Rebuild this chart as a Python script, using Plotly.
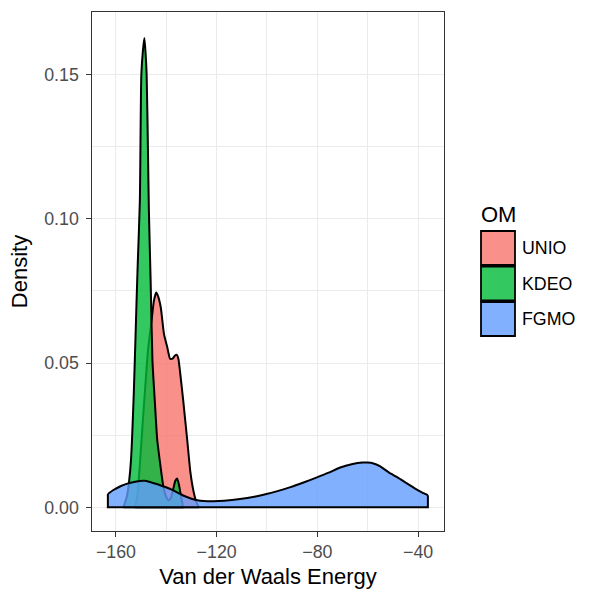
import plotly.graph_objects as go

# ---- data ----
groups = ["UNIO", "KDEO", "FGMO"]
colors = ["#F8766D", "#00BA38", "#619CFF"]

unio_x = [-152.5, -151.5, -150.8, -149.7, -148.5, -147.2, -145.8, -144.9, -144.0, -143.2,
          -142.2, -140.9, -139.6, -138.5, -137.5, -136.6, -135.9, -135.2, -134.6, -133.3,
          -131.7, -130.4, -129.1, -128.0, -127.0]
unio_y = [0.0, 0.004, 0.011, 0.025, 0.040, 0.055, 0.065, 0.0716, 0.0744, 0.0730,
          0.0693, 0.0600, 0.0555, 0.0515, 0.0515, 0.0525, 0.0529, 0.0515, 0.0475, 0.0372,
          0.0235, 0.0120, 0.0052, 0.0017, 0.0]

kdeo_x = [-157.0, -155.6, -154.8, -154.0, -152.9, -151.8, -151.3, -150.5, -149.9, -149.3,
          -148.7, -148.2, -147.8, -147.3, -146.9, -146.2, -145.5, -144.5, -143.6, -142.3,
          -141.2, -140.2, -139.2, -138.3, -137.2, -136.4, -135.7, -135.0, -134.2, -133.5]
kdeo_y = [0.0, 0.004, 0.0087, 0.0166, 0.0396, 0.0716, 0.0853, 0.106, 0.150, 0.158,
          0.1626, 0.157, 0.150, 0.125, 0.1025, 0.078, 0.051, 0.036, 0.0235, 0.0143,
          0.0074, 0.0040, 0.0025, 0.0030, 0.0065, 0.0092, 0.0100, 0.0080, 0.0040, 0.0010]

fgmo_x = [-163.2, -161.0, -158.0, -155.5, -152.8, -150.5, -148.8, -146.5, -143.5, -141.0,
          -138.3, -135.5, -133.1, -130.0, -126.5, -123.5, -121.2, -117.0, -110.7, -105.0,
          -100.2, -95.5, -91.0, -85.5, -80.4, -75.5, -71.2, -66.0, -62.0, -60.1,
          -58.0, -55.0, -51.5, -48.0, -45.0, -41.0, -38.5, -36.1]
fgmo_y = [0.0046, 0.0060, 0.0074, 0.0082, 0.0088, 0.0091, 0.0092, 0.0088, 0.0080, 0.0072,
          0.0063, 0.0051, 0.0040, 0.0030, 0.0023, 0.0021, 0.0021, 0.0023, 0.0029, 0.0037,
          0.0046, 0.0057, 0.0069, 0.0086, 0.0103, 0.0120, 0.0137, 0.0150, 0.0155, 0.0155,
          0.0153, 0.0142, 0.0120, 0.0103, 0.0086, 0.0064, 0.0052, 0.0042]

series_x = [unio_x, kdeo_x, fgmo_x]
series_y = [unio_y, kdeo_y, fgmo_y]

x_ticks = [-160, -120, -80, -40]
y_ticks = [0.00, 0.05, 0.10, 0.15]
x_title = "Van der Waals Energy"
y_title = "Density"
legend_title = "OM"

# ---- layout geometry ----
W, H = 600, 600
ML, MR, MT, MB = 92, 156, 12, 69
FONT = "Liberation Sans, Arial, Helvetica, sans-serif"
ALPHA = 0.8
LW = 2.0


def rgba(hexc, a):
    h = hexc.lstrip("#")
    r, g, b = int(h[0:2], 16), int(h[2:4], 16), int(h[4:6], 16)
    return f"rgba({r},{g},{b},{a})"


def px_x(px):
    return (px - ML) / (W - ML - MR)


def px_y(py):
    return (H - MB - py) / (H - MT - MB)


fig = go.Figure()
for name, col, xs, ys in zip(groups, colors, series_x, series_y):
    fig.add_trace(go.Scatter(
        x=xs, y=ys, mode="lines", fill="tozeroy", fillcolor=rgba(col, ALPHA),
        line=dict(color="black", width=LW, shape="spline", smoothing=0.6),
        name=name, showlegend=False, hoverinfo="skip"))
    fig.add_trace(go.Scatter(
        x=[xs[0], xs[0], xs[-1], xs[-1]], y=[ys[0], 0, 0, ys[-1]], mode="lines",
        line=dict(color="black", width=LW), showlegend=False, hoverinfo="skip"))

axis_common = dict(
    showline=True, linecolor="#333333", linewidth=1.2, mirror=True,
    ticks="outside", ticklen=4.5, tickcolor="#333333", tickwidth=1,
    showgrid=True, gridcolor="#EBEBEB", gridwidth=1.1, zeroline=False,
    tickfont=dict(family=FONT, size=17.8, color="#4D4D4D"),
)

fig.update_xaxes(
    **axis_common, range=[-169.5, -29.7], tickmode="array", tickvals=x_ticks,
    ticktext=[f"\u2212{abs(v)}" for v in x_ticks],
    minor=dict(tickvals=[-140, -100, -60], showgrid=True, gridcolor="#EBEBEB",
               gridwidth=0.6, ticks=""),
    title=dict(text=x_title, font=dict(family=FONT, size=22, color="black"), standoff=7),
)
fig.update_yaxes(
    **axis_common, range=[-0.0082, 0.1716], tickmode="array", tickvals=y_ticks,
    ticktext=[f"{v:.2f}" for v in y_ticks], ticklabelstandoff=4,
    minor=dict(tickvals=[0.025, 0.075, 0.125], showgrid=True, gridcolor="#EBEBEB",
               gridwidth=0.6, ticks=""),
    title=dict(text=y_title, font=dict(family=FONT, size=22, color="black"), standoff=10),
)

# ---- legend drawn as shapes + annotations ----
shapes = []
annotations = [dict(
    x=px_x(479), y=px_y(214), xref="paper", yref="paper", text=legend_title,
    showarrow=False, xanchor="left", yanchor="middle",
    font=dict(family=FONT, size=22, color="black"))]
box_top = 231
pitch = 35.5
for i, (name, col) in enumerate(zip(groups, colors)):
    y0 = box_top + i * pitch
    shapes.append(dict(
        type="rect", xref="paper", yref="paper",
        x0=px_x(481), x1=px_x(515), y0=px_y(y0), y1=px_y(y0 + 34),
        fillcolor=rgba(col, ALPHA), line=dict(color="black", width=1.8)))
    annotations.append(dict(
        x=px_x(520), y=px_y(y0 + 17), xref="paper", yref="paper", text=name,
        showarrow=False, xanchor="left", yanchor="middle",
        font=dict(family=FONT, size=17.8, color="black")))

fig.update_layout(
    width=W, height=H, autosize=False,
    margin=dict(l=ML, r=MR, t=MT, b=MB, pad=0),
    plot_bgcolor="white", paper_bgcolor="white",
    showlegend=False, shapes=shapes, annotations=annotations,
)

fig.write_html("out.html")
